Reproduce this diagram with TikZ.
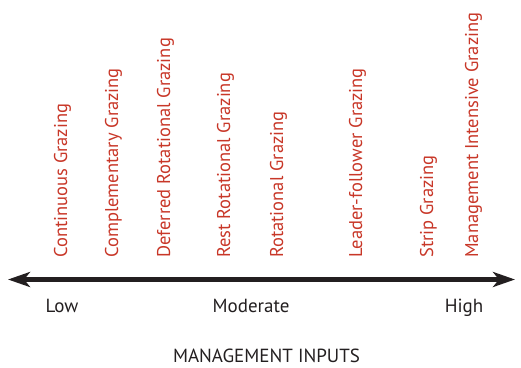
\documentclass[tikz,border=0pt]{standalone}
\usepackage{fontspec}
\setmainfont{PT Sans}
\usetikzlibrary{arrows.meta}
\definecolor{gred}{RGB}{200,55,40}
\definecolor{axisblack}{RGB}{35,31,32}
\tikzset{
  method/.style={rotate=90,anchor=base west,inner sep=0pt,text=gred,font=\fontsize{18.5}{18.5}\selectfont},
  level/.style={anchor=base,inner sep=0pt,text=axisblack,font=\fontsize{19}{19}\selectfont},
  axis/.style={line width=4.5pt,draw=axisblack,{Stealth[length=22pt,width=15pt,inset=6pt]}-{Stealth[length=22pt,width=15pt,inset=6pt]}}
}
\begin{document}
\begin{tikzpicture}[x=1pt,y=-1pt]
\useasboundingbox (0,0) rectangle (521,367);
\node[method] (m1) at (67,258) {Continuous Grazing};
\node[method] (m2) at (118,258) {Complementary Grazing};
\node[method] (m3) at (170,258) {Deferred Rotational Grazing};
\node[method] (m4) at (230,258) {Rest Rotational Grazing};
\node[method] (m5) at (283,258) {Rotational Grazing};
\node[method] (m6) at (362,258) {Leader-follower Grazing};
\node[method] (m7) at (433,258) {Strip Grazing};
\node[method] (m8) at (478,258) {Management Intensive Grazing};
\coordinate (lo) at (8,279.5);
\coordinate (hi) at (515,279.5);
\draw[axis] (lo) -- (hi);
\node[level] (low) at (62,312) {Low};
\node[level] (mod) at (251,312) {Moderate};
\node[level] (high) at (464,312) {High};
\node[level] (title) at (266.5,362.5) {MANAGEMENT INPUTS};
\end{tikzpicture}
\end{document}
